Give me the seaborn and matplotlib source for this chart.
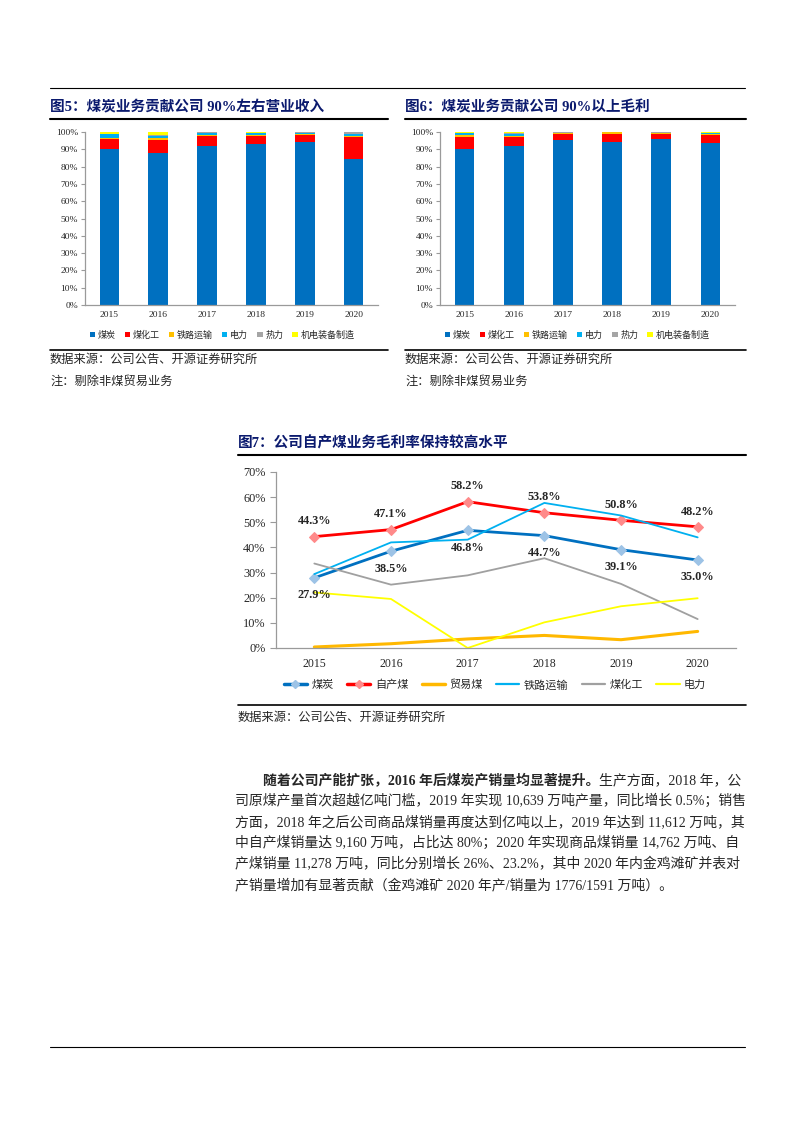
import numpy as np
import matplotlib
matplotlib.use('Agg')
import matplotlib.pyplot as plt
import seaborn as sns
from matplotlib.patches import Patch
from matplotlib.lines import Line2D

# ---------------- data ----------------
years = ['2015', '2016', '2017', '2018', '2019', '2020']
seg_names = ['煤炭', '煤化工', '铁路运输', '电力', '热力', '机电装备制造']
seg_colors = ['#0070C0', '#FF0000', '#FFC000', '#00B0F0', '#A5A5A5', '#FFFF00']

# Fig5: revenue share (%)
rev_coal = [90.2, 88.0, 92.1, 92.9, 94.2, 84.5]
rev_chem = [6.0, 7.4, 5.8, 5.0, 4.0, 12.8]
rev_rail = [0.6, 0.9, 0.4, 0.6, 0.6, 0.5]
rev_power = [1.9, 1.6, 1.0, 1.0, 0.8, 1.2]
rev_heat = [0.2, 0.4, 0.5, 0.1, 0.3, 0.8]
rev_mech = [1.1, 1.7, 0.2, 0.4, 0.1, 0.2]

# Fig6: gross profit share (%)
gp_coal = [90.2, 92.1, 95.4, 94.2, 96.1, 93.8]
gp_chem = [7.1, 4.8, 3.6, 4.4, 2.9, 4.6]
gp_rail = [0.9, 0.6, 0.6, 1.2, 0.4, 0.4]
gp_power = [1.4, 1.2, 0.1, 0.0, 0.1, 0.8]
gp_heat = [0.1, 0.5, 0.1, 0.1, 0.3, 0.1]
gp_mech = [0.3, 0.8, 0.2, 0.1, 0.2, 0.3]

# Fig7: gross margin (%)
line_names = ['煤炭', '自产煤', '贸易煤', '铁路运输', '煤化工', '电力']
gm_coal = [27.9, 38.5, 46.8, 44.7, 39.1, 35.0]
gm_own = [44.3, 47.1, 58.2, 53.8, 50.8, 48.2]
gm_trade = [0.4, 1.7, 3.6, 5.0, 3.3, 6.6]
gm_rail = [29.4, 42.0, 43.1, 57.7, 52.7, 44.0]
gm_chem = [33.6, 25.2, 28.9, 35.7, 25.5, 11.5]
gm_power = [22.1, 19.5, 0.0, 10.2, 16.6, 19.8]

para_lines = [
    '司原煤产量首次超越亿吨门槛，2019 年实现 10,639 万吨产量，同比增长 0.5%；销售',
    '方面，2018 年之后公司商品煤销量再度达到亿吨以上，2019 年达到 11,612 万吨，其',
    '中自产煤销量达 9,160 万吨，占比达 80%；2020 年实现商品煤销量 14,762 万吨、自',
    '产煤销量 11,278 万吨，同比分别增长 26%、23.2%，其中 2020 年内金鸡滩矿并表对',
    '产销量增加有显著贡献（金鸡滩矿 2020 年产/销量为 1776/1591 万吨）。',
]
para_bold = '随着公司产能扩张，2016 年后煤炭产销量均显著提升。'
para_first_rest = '生产方面，2018 年，公'

# ---------------- style ----------------
sns.set_theme(style='white')
FAM = ['Liberation Serif', 'Noto Sans CJK SC', 'DejaVu Sans']
CJK = ['Noto Sans CJK SC', 'DejaVu Sans']
plt.rcParams['font.family'] = FAM
plt.rcParams['axes.unicode_minus'] = False

W, H = 793, 1122
fig = plt.figure(figsize=(W / 100, H / 100), dpi=100)
fig.patch.set_facecolor('white')


def fx(x):
    return x / W


def fy(y):
    return 1 - y / H


def hline(x0, x1, y, lw=1.0):
    fig.add_artist(Line2D([fx(x0), fx(x1)], [fy(y), fy(y)],
                          transform=fig.transFigure, color='black', lw=lw))


TITLE_C = '#0B1A6E'
AX_C = '#9A9A9A'


def style_axes(ax, ysize, xsize, ypad, xpad, tlen):
    for s in ['top', 'right']:
        ax.spines[s].set_visible(False)
    for s in ['left', 'bottom']:
        ax.spines[s].set_color(AX_C)
        ax.spines[s].set_linewidth(0.9)
    ax.set_xlim(-0.5, 5.5)
    ax.set_xticks(range(6))
    ax.set_xticklabels(years, fontsize=xsize, family=FAM)
    ax.set_xticks(np.arange(-0.5, 6.0, 1.0), minor=True)
    ax.tick_params(axis='x', which='major', length=0, pad=xpad)
    ax.tick_params(axis='x', which='minor', length=tlen, color=AX_C, width=0.8, direction='out')
    ax.tick_params(axis='y', which='major', length=tlen, color=AX_C, width=0.8,
                   direction='out', pad=ypad, labelsize=ysize, left=True)
    ax.set_xlabel('')
    ax.set_ylabel('')
    ax.grid(False)


def stacked(rect, series):
    ax = fig.add_axes(rect)
    cum = np.cumsum(np.array(series, dtype=float), axis=0)
    for i in range(len(series) - 1, -1, -1):
        sns.barplot(x=years, y=cum[i], color=seg_colors[i], width=0.4,
                    saturation=1, errorbar=None, linewidth=0, edgecolor='none', ax=ax)
    ax.set_ylim(0, 100)
    ax.set_yticks(range(0, 101, 10))
    ax.set_yticklabels([f'{v}%' for v in range(0, 101, 10)], family=FAM)
    style_axes(ax, 6.8, 6.8, 2, 4.5, 3)
    return ax


# ---------------- page rules ----------------
hline(50, 745, 88, 0.8)
hline(50, 745, 1047, 0.8)

# ---------------- Fig 5 ----------------
fig.text(fx(50), fy(107), '图5：煤炭业务贡献公司 90%左右营业收入', fontsize=10.5,
         fontweight='bold', color=TITLE_C, va='center', ha='left', family=FAM)
hline(50, 388, 118.5, 1.5)
stacked([fx(85), fy(305), (378 - 85) / W, (305 - 132) / H],
        [rev_coal, rev_chem, rev_rail, rev_power, rev_heat, rev_mech])
handles = [Patch(facecolor=c, edgecolor='none', label=n) for n, c in zip(seg_names, seg_colors)]
fig.legend(handles=handles, loc='center', bbox_to_anchor=(fx(222), fy(335)), ncol=6,
           frameon=False, prop={'family': CJK, 'size': 6.5}, handlelength=0.6,
           handleheight=0.6, handletextpad=0.3, columnspacing=1.0)
hline(50, 388, 349.5, 1.2)
fig.text(fx(50), fy(359), '数据来源：公司公告、开源证券研究所', fontsize=8.8, va='center',
         ha='left', family=CJK)
fig.text(fx(50), fy(381), '注：剔除非煤贸易业务', fontsize=8.8, va='center', ha='left', family=CJK)

# ---------------- Fig 6 ----------------
fig.text(fx(405), fy(107), '图6：煤炭业务贡献公司 90%以上毛利', fontsize=10.5,
         fontweight='bold', color=TITLE_C, va='center', ha='left', family=FAM)
hline(405, 746, 118.5, 1.5)
stacked([fx(440), fy(305), (735 - 440) / W, (305 - 132) / H],
        [gp_coal, gp_chem, gp_rail, gp_power, gp_heat, gp_mech])
fig.legend(handles=handles, loc='center', bbox_to_anchor=(fx(577), fy(335)), ncol=6,
           frameon=False, prop={'family': CJK, 'size': 6.5}, handlelength=0.6,
           handleheight=0.6, handletextpad=0.3, columnspacing=1.0)
hline(405, 746, 349.5, 1.2)
fig.text(fx(405), fy(359), '数据来源：公司公告、开源证券研究所', fontsize=8.8, va='center',
         ha='left', family=CJK)
fig.text(fx(405), fy(381), '注：剔除非煤贸易业务', fontsize=8.8, va='center', ha='left', family=CJK)

# ---------------- Fig 7 ----------------
fig.text(fx(238), fy(443), '图7：公司自产煤业务毛利率保持较高水平', fontsize=10.5,
         fontweight='bold', color=TITLE_C, va='center', ha='left', family=FAM)
hline(238, 746, 455, 1.5)
ax7 = fig.add_axes([fx(276), fy(648), (736 - 276) / W, (648 - 472) / H])
xs = np.arange(6)
specs = [
    (gm_coal, '#0070C0', 2.0, 'D', '#9DC3E6'),
    (gm_own, '#FF0000', 2.0, 'D', '#FF8A8A'),
    (gm_trade, '#FFB800', 2.2, None, None),
    (gm_rail, '#00B0F0', 1.3, None, None),
    (gm_chem, '#A0A0A0', 1.3, None, None),
    (gm_power, '#FFFF00', 1.3, None, None),
]
for vals, c, lw, mk, mfc in specs:
    kw = dict(color=c, linewidth=lw, ax=ax7)
    if mk:
        kw.update(marker=mk, markersize=5.5, markerfacecolor=mfc, markeredgecolor=mfc)
    sns.lineplot(x=xs, y=vals, **kw)
ax7.set_ylim(0, 70)
ax7.set_yticks(range(0, 71, 10))
ax7.set_yticklabels([f'{v}%' for v in range(0, 71, 10)], family=FAM)
style_axes(ax7, 8.8, 8.5, 3.5, 7, 4)
for i, v in enumerate(gm_coal):
    ax7.annotate(f'{v:.1f}%', (i, v), xytext=(0, -12.5), textcoords='offset points',
                 ha='center', va='center', fontsize=8.8, fontweight='bold', family=FAM)
for i, v in enumerate(gm_own):
    ax7.annotate(f'{v:.1f}%', (i, v), xytext=(0, 11), textcoords='offset points',
                 ha='center', va='center', fontsize=8.8, fontweight='bold', family=FAM)
lhandles = []
for (vals, c, lw, mk, mfc), n in zip(specs, line_names):
    if mk:
        lhandles.append(Line2D([], [], color=c, lw=lw + 0.5, marker=mk, markersize=4,
                               markerfacecolor=mfc, markeredgecolor=mfc, label=n))
    else:
        lhandles.append(Line2D([], [], color=c, lw=lw + 0.3, label=n))
fig.legend(handles=lhandles, loc='center', bbox_to_anchor=(fx(495), fy(685)), ncol=6,
           frameon=False, prop={'family': CJK, 'size': 8}, handlelength=2.1,
           handletextpad=0.4, columnspacing=1.2)
hline(238, 746, 705, 1.2)
fig.text(fx(238), fy(717), '数据来源：公司公告、开源证券研究所', fontsize=8.8, va='center',
         ha='left', family=CJK)

# ---------------- paragraph ----------------
PSIZE = 10.0
line_y = [780, 801, 822, 843, 864, 885]
t0 = fig.text(fx(263), fy(line_y[0]), para_bold, fontsize=PSIZE, fontweight='bold',
              va='center', ha='left', family=FAM)
fig.canvas.draw()
bb = t0.get_window_extent(renderer=fig.canvas.get_renderer())
fig.text(bb.x1 / (W), fy(line_y[0]), para_first_rest, fontsize=PSIZE, va='center',
         ha='left', family=FAM)
for y, s in zip(line_y[1:], para_lines):
    fig.text(fx(235), fy(y), s, fontsize=PSIZE, va='center', ha='left', family=FAM)

fig.savefig('out.png', dpi=100, facecolor='white')
